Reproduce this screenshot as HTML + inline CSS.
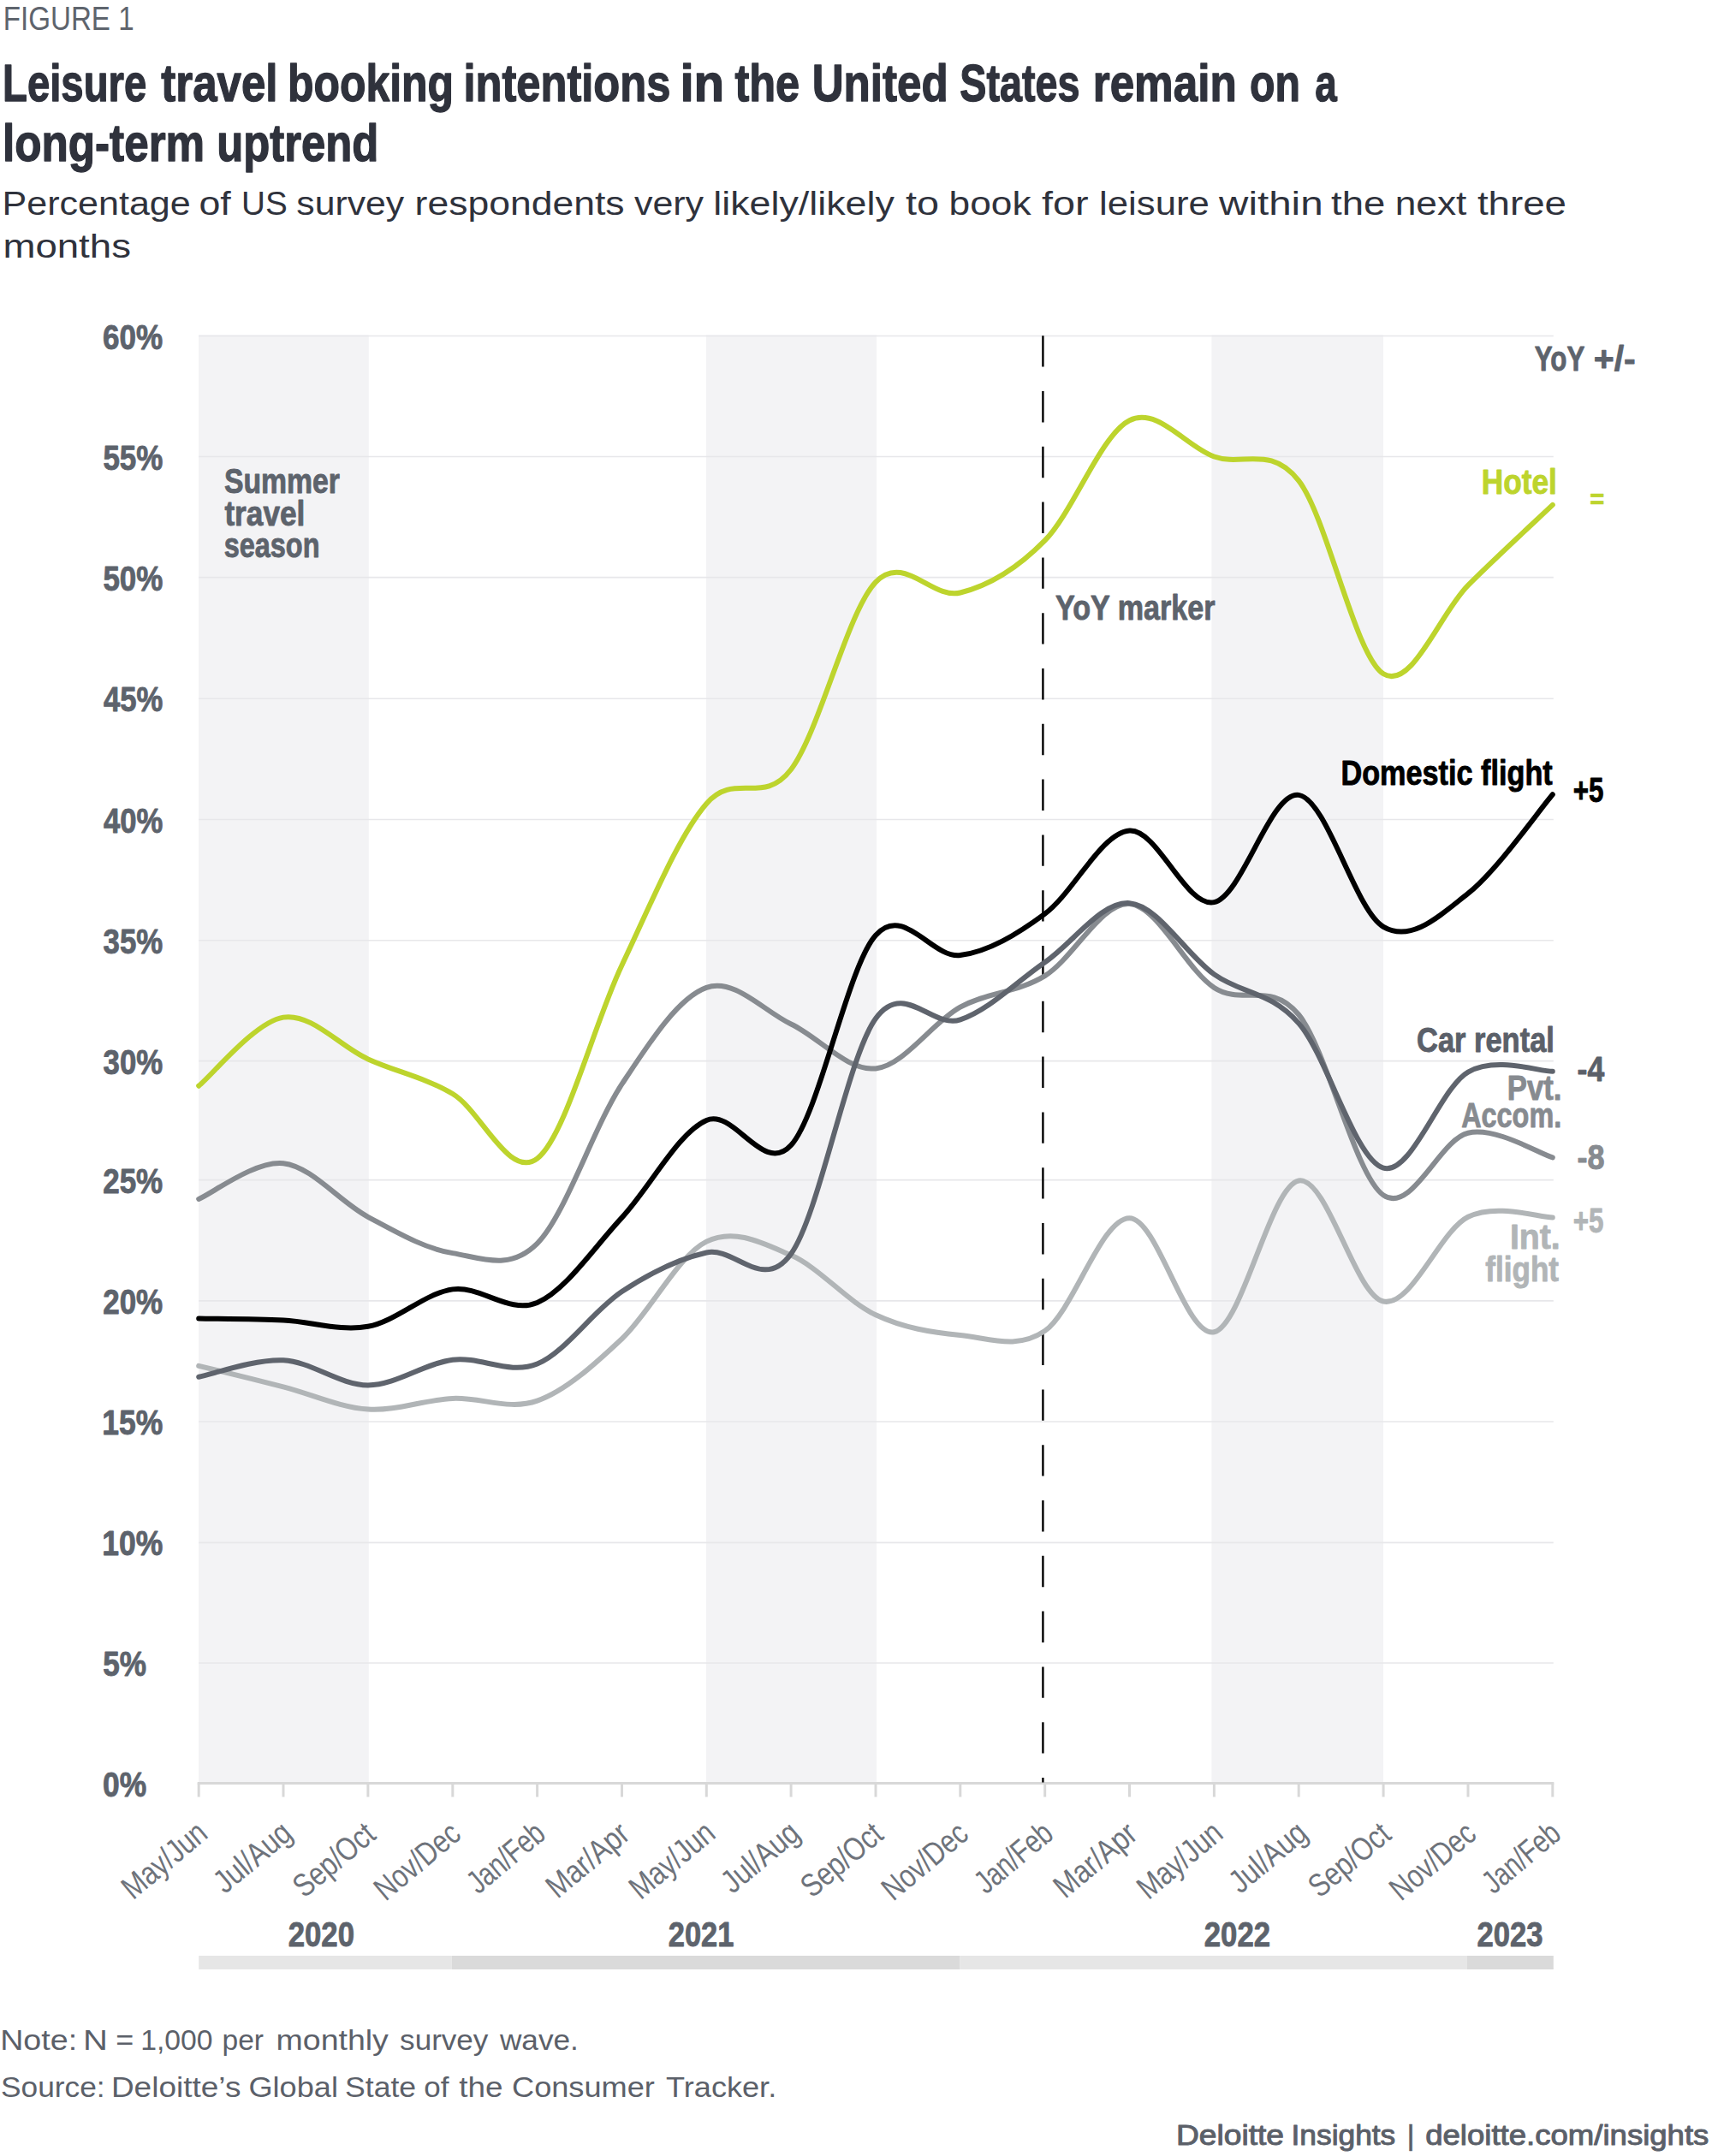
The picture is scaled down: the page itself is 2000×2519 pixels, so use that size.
<!DOCTYPE html>
<html lang="en"><head><meta charset="utf-8"><title>Figure 1 - Leisure travel booking intentions</title>
<style>html,body{margin:0;padding:0;background:#fff}svg{display:block}text{font-family:"Liberation Sans",sans-serif}.b{font-weight:700}</style>
</head><body>
<svg width="2000" height="2519" viewBox="0 0 2000 2519">
<rect width="2000" height="2519" fill="#ffffff"/>
<text x="3.7" y="35.0" font-size="39" fill="#5e646d" textLength="152.9" lengthAdjust="spacingAndGlyphs">FIGURE 1</text>
<text class="b" y="118.3" font-size="62" fill="#2f323c" stroke="#2f323c" stroke-width="1.36" stroke-linejoin="round"><tspan x="3.0" textLength="168.3" lengthAdjust="spacingAndGlyphs">Leisure</tspan> <tspan x="188.3" textLength="136.2" lengthAdjust="spacingAndGlyphs">travel</tspan> <tspan x="336.1" textLength="193.9" lengthAdjust="spacingAndGlyphs">booking</tspan> <tspan x="541.5" textLength="241.8" lengthAdjust="spacingAndGlyphs">intentions</tspan> <tspan x="794.4" textLength="51.8" lengthAdjust="spacingAndGlyphs">in</tspan> <tspan x="858.4" textLength="75.8" lengthAdjust="spacingAndGlyphs">the</tspan> <tspan x="948.7" textLength="158.9" lengthAdjust="spacingAndGlyphs">United</tspan> <tspan x="1121.3" textLength="140.2" lengthAdjust="spacingAndGlyphs">States</tspan> <tspan x="1276.7" textLength="168.0" lengthAdjust="spacingAndGlyphs">remain</tspan> <tspan x="1460.1" textLength="58.9" lengthAdjust="spacingAndGlyphs">on</tspan> <tspan x="1536.3" textLength="25.5" lengthAdjust="spacingAndGlyphs">a</tspan></text>
<text class="b" y="187.8" font-size="62" fill="#2f323c" stroke="#2f323c" stroke-width="1.36" stroke-linejoin="round"><tspan x="2.9" textLength="236.3" lengthAdjust="spacingAndGlyphs">long-term</tspan> <tspan x="253.2" textLength="189.1" lengthAdjust="spacingAndGlyphs">uptrend</tspan></text>
<text y="251.2" font-size="38" fill="#2f323c"><tspan x="2.6" textLength="220.1" lengthAdjust="spacingAndGlyphs">Percentage</tspan> <tspan x="232.4" textLength="37.3" lengthAdjust="spacingAndGlyphs">of</tspan> <tspan x="282.0" textLength="53.7" lengthAdjust="spacingAndGlyphs">US</tspan> <tspan x="346.3" textLength="125.8" lengthAdjust="spacingAndGlyphs">survey</tspan> <tspan x="484.6" textLength="245.0" lengthAdjust="spacingAndGlyphs">respondents</tspan> <tspan x="740.9" textLength="81.2" lengthAdjust="spacingAndGlyphs">very</tspan> <tspan x="833.3" textLength="211.6" lengthAdjust="spacingAndGlyphs">likely/likely</tspan> <tspan x="1057.9" textLength="39.0" lengthAdjust="spacingAndGlyphs">to</tspan> <tspan x="1108.6" textLength="95.9" lengthAdjust="spacingAndGlyphs">book</tspan> <tspan x="1216.9" textLength="54.6" lengthAdjust="spacingAndGlyphs">for</tspan> <tspan x="1284.1" textLength="128.8" lengthAdjust="spacingAndGlyphs">leisure</tspan> <tspan x="1424.1" textLength="121.5" lengthAdjust="spacingAndGlyphs">within</tspan> <tspan x="1555.0" textLength="63.2" lengthAdjust="spacingAndGlyphs">the</tspan> <tspan x="1629.7" textLength="83.6" lengthAdjust="spacingAndGlyphs">next</tspan> <tspan x="1725.9" textLength="104.1" lengthAdjust="spacingAndGlyphs">three</tspan></text>
<text x="3.4" y="300.8" font-size="38" fill="#2f323c" textLength="149.6" lengthAdjust="spacingAndGlyphs">months</text>
<rect x="232.0" y="391.5" width="198.8" height="1692.0" fill="#f3f3f5"/>
<rect x="824.9" y="391.5" width="199.1" height="1692.0" fill="#f3f3f5"/>
<rect x="1415.4" y="391.5" width="200.6" height="1692.0" fill="#f3f3f5"/>
<line x1="232.2" x2="1814.8" y1="1943.0" y2="1943.0" stroke="#e7e7ea" stroke-width="1.6"/>
<line x1="232.2" x2="1814.8" y1="1802.4" y2="1802.4" stroke="#e7e7ea" stroke-width="1.6"/>
<line x1="232.2" x2="1814.8" y1="1661.0" y2="1661.0" stroke="#e7e7ea" stroke-width="1.6"/>
<line x1="232.2" x2="1814.8" y1="1519.9" y2="1519.9" stroke="#e7e7ea" stroke-width="1.6"/>
<line x1="232.2" x2="1814.8" y1="1378.6" y2="1378.6" stroke="#e7e7ea" stroke-width="1.6"/>
<line x1="232.2" x2="1814.8" y1="1239.6" y2="1239.6" stroke="#e7e7ea" stroke-width="1.6"/>
<line x1="232.2" x2="1814.8" y1="1098.7" y2="1098.7" stroke="#e7e7ea" stroke-width="1.6"/>
<line x1="232.2" x2="1814.8" y1="957.5" y2="957.5" stroke="#e7e7ea" stroke-width="1.6"/>
<line x1="232.2" x2="1814.8" y1="816.2" y2="816.2" stroke="#e7e7ea" stroke-width="1.6"/>
<line x1="232.2" x2="1814.8" y1="674.6" y2="674.6" stroke="#e7e7ea" stroke-width="1.6"/>
<line x1="232.2" x2="1814.8" y1="533.5" y2="533.5" stroke="#e7e7ea" stroke-width="1.6"/>
<line x1="232.2" x2="1814.8" y1="392.5" y2="392.5" stroke="#e7e7ea" stroke-width="1.6"/>
<text class="b" x="120.0" y="2098.5" font-size="41.5" fill="#5d636c" textLength="51.1" lengthAdjust="spacingAndGlyphs" stroke="#5d636c" stroke-width="0.91" stroke-linejoin="round">0%</text>
<text class="b" x="120.3" y="1958.0" font-size="41.5" fill="#5d636c" textLength="50.8" lengthAdjust="spacingAndGlyphs" stroke="#5d636c" stroke-width="0.91" stroke-linejoin="round">5%</text>
<text class="b" x="119.2" y="1817.4" font-size="41.5" fill="#5d636c" textLength="71.0" lengthAdjust="spacingAndGlyphs" stroke="#5d636c" stroke-width="0.91" stroke-linejoin="round">10%</text>
<text class="b" x="119.2" y="1676.0" font-size="41.5" fill="#5d636c" textLength="71.0" lengthAdjust="spacingAndGlyphs" stroke="#5d636c" stroke-width="0.91" stroke-linejoin="round">15%</text>
<text class="b" x="120.2" y="1534.9" font-size="41.5" fill="#5d636c" textLength="70.0" lengthAdjust="spacingAndGlyphs" stroke="#5d636c" stroke-width="0.91" stroke-linejoin="round">20%</text>
<text class="b" x="120.2" y="1393.6" font-size="41.5" fill="#5d636c" textLength="70.0" lengthAdjust="spacingAndGlyphs" stroke="#5d636c" stroke-width="0.91" stroke-linejoin="round">25%</text>
<text class="b" x="120.6" y="1254.6" font-size="41.5" fill="#5d636c" textLength="69.6" lengthAdjust="spacingAndGlyphs" stroke="#5d636c" stroke-width="0.91" stroke-linejoin="round">30%</text>
<text class="b" x="120.6" y="1113.7" font-size="41.5" fill="#5d636c" textLength="69.6" lengthAdjust="spacingAndGlyphs" stroke="#5d636c" stroke-width="0.91" stroke-linejoin="round">35%</text>
<text class="b" x="120.9" y="972.5" font-size="41.5" fill="#5d636c" textLength="69.3" lengthAdjust="spacingAndGlyphs" stroke="#5d636c" stroke-width="0.91" stroke-linejoin="round">40%</text>
<text class="b" x="120.9" y="831.2" font-size="41.5" fill="#5d636c" textLength="69.3" lengthAdjust="spacingAndGlyphs" stroke="#5d636c" stroke-width="0.91" stroke-linejoin="round">45%</text>
<text class="b" x="120.4" y="689.6" font-size="41.5" fill="#5d636c" textLength="69.9" lengthAdjust="spacingAndGlyphs" stroke="#5d636c" stroke-width="0.91" stroke-linejoin="round">50%</text>
<text class="b" x="120.4" y="548.5" font-size="41.5" fill="#5d636c" textLength="69.9" lengthAdjust="spacingAndGlyphs" stroke="#5d636c" stroke-width="0.91" stroke-linejoin="round">55%</text>
<text class="b" x="120.1" y="407.5" font-size="41.5" fill="#5d636c" textLength="70.1" lengthAdjust="spacingAndGlyphs" stroke="#5d636c" stroke-width="0.91" stroke-linejoin="round">60%</text>
<line x1="230.7" x2="1815.3" y1="2083.5" y2="2083.5" stroke="#d8d8d8" stroke-width="3"/>
<line x1="232.2" x2="232.2" y1="2083.5" y2="2099.5" stroke="#d8d8d8" stroke-width="3"/>
<line x1="331.0" x2="331.0" y1="2083.5" y2="2099.5" stroke="#d8d8d8" stroke-width="3"/>
<line x1="429.9" x2="429.9" y1="2083.5" y2="2099.5" stroke="#d8d8d8" stroke-width="3"/>
<line x1="528.8" x2="528.8" y1="2083.5" y2="2099.5" stroke="#d8d8d8" stroke-width="3"/>
<line x1="627.6" x2="627.6" y1="2083.5" y2="2099.5" stroke="#d8d8d8" stroke-width="3"/>
<line x1="726.5" x2="726.5" y1="2083.5" y2="2099.5" stroke="#d8d8d8" stroke-width="3"/>
<line x1="825.3" x2="825.3" y1="2083.5" y2="2099.5" stroke="#d8d8d8" stroke-width="3"/>
<line x1="924.1" x2="924.1" y1="2083.5" y2="2099.5" stroke="#d8d8d8" stroke-width="3"/>
<line x1="1023.0" x2="1023.0" y1="2083.5" y2="2099.5" stroke="#d8d8d8" stroke-width="3"/>
<line x1="1121.8" x2="1121.8" y1="2083.5" y2="2099.5" stroke="#d8d8d8" stroke-width="3"/>
<line x1="1220.7" x2="1220.7" y1="2083.5" y2="2099.5" stroke="#d8d8d8" stroke-width="3"/>
<line x1="1319.5" x2="1319.5" y1="2083.5" y2="2099.5" stroke="#d8d8d8" stroke-width="3"/>
<line x1="1418.4" x2="1418.4" y1="2083.5" y2="2099.5" stroke="#d8d8d8" stroke-width="3"/>
<line x1="1517.2" x2="1517.2" y1="2083.5" y2="2099.5" stroke="#d8d8d8" stroke-width="3"/>
<line x1="1616.1" x2="1616.1" y1="2083.5" y2="2099.5" stroke="#d8d8d8" stroke-width="3"/>
<line x1="1715.0" x2="1715.0" y1="2083.5" y2="2099.5" stroke="#d8d8d8" stroke-width="3"/>
<line x1="1813.8" x2="1813.8" y1="2083.5" y2="2099.5" stroke="#d8d8d8" stroke-width="3"/>
<line x1="1218.4" x2="1218.4" y1="392.2" y2="2082.5" stroke="#000" stroke-width="2.4" stroke-dasharray="36.4 28.4"/>
<path d="M232.2,1595.8C248.7,1599.9 298.1,1611.9 331.0,1620.3C364.0,1628.8 396.9,1644.3 429.9,1646.6C462.8,1648.8 495.8,1635.5 528.8,1633.9C561.7,1632.2 594.6,1648.3 627.6,1636.7C660.5,1625.1 693.5,1595.2 726.5,1564.2C759.4,1533.2 792.3,1466.8 825.3,1450.6C858.2,1434.3 891.2,1452.4 924.1,1466.6C957.1,1480.9 990.0,1520.7 1023.0,1536.3C1056.0,1551.8 1088.9,1556.9 1121.8,1560.0C1154.8,1563.1 1187.8,1577.7 1220.7,1554.9C1253.7,1532.1 1286.6,1423.0 1319.5,1423.2C1352.5,1423.4 1385.4,1563.6 1418.4,1556.3C1451.3,1549.0 1484.3,1385.5 1517.2,1379.5C1550.2,1373.5 1583.1,1513.5 1616.1,1520.5C1649.0,1527.5 1682.0,1438.2 1715.0,1421.8C1747.9,1405.4 1797.3,1422.3 1813.8,1422.4" fill="none" stroke="#b1b5b7" stroke-width="6" stroke-linecap="round" stroke-linejoin="round"/>
<path d="M232.2,1400.9C248.7,1394.0 298.1,1355.7 331.0,1359.2C364.0,1362.7 396.9,1404.3 429.9,1421.8C462.8,1439.3 495.8,1458.9 528.8,1464.1C561.7,1469.3 594.6,1485.7 627.6,1452.8C660.5,1419.9 693.5,1316.5 726.5,1266.7C759.4,1216.9 792.3,1165.6 825.3,1153.9C858.2,1142.2 891.2,1180.7 924.1,1196.5C957.1,1212.2 990.0,1251.7 1023.0,1248.4C1056.0,1245.1 1088.9,1194.8 1121.8,1176.7C1154.8,1158.7 1187.8,1160.2 1220.7,1140.1C1253.7,1120.0 1286.6,1053.7 1319.5,1056.0C1352.5,1058.3 1385.4,1132.3 1418.4,1153.9C1451.3,1175.5 1484.3,1145.1 1517.2,1185.5C1550.2,1225.9 1583.1,1373.4 1616.1,1396.4C1649.0,1419.5 1682.0,1331.0 1715.0,1323.7C1747.9,1316.3 1797.3,1347.6 1813.8,1352.4" fill="none" stroke="#878b90" stroke-width="6" stroke-linecap="round" stroke-linejoin="round"/>
<path d="M232.2,1608.8C248.7,1605.5 298.1,1587.7 331.0,1589.3C364.0,1590.9 396.9,1618.4 429.9,1618.4C462.8,1618.3 495.8,1592.9 528.8,1588.7C561.7,1584.6 594.6,1606.8 627.6,1593.5C660.5,1580.2 693.5,1530.6 726.5,1508.9C759.4,1487.3 792.3,1470.9 825.3,1463.5C858.2,1456.2 891.2,1510.5 924.1,1464.9C957.1,1419.4 990.0,1235.6 1023.0,1190.0C1056.0,1144.4 1088.9,1202.4 1121.8,1191.4C1154.8,1180.5 1187.8,1147.0 1220.7,1124.3C1253.7,1101.6 1286.6,1052.8 1319.5,1055.2C1352.5,1057.5 1385.4,1115.0 1418.4,1138.4C1451.3,1161.8 1484.3,1157.9 1517.2,1195.6C1550.2,1233.3 1583.1,1355.1 1616.1,1364.6C1649.0,1374.0 1682.0,1271.4 1715.0,1252.6C1747.9,1233.8 1797.3,1251.9 1813.8,1251.8" fill="none" stroke="#5f646d" stroke-width="6" stroke-linecap="round" stroke-linejoin="round"/>
<path d="M232.2,1540.5C248.7,1540.9 298.1,1540.9 331.0,1542.5C364.0,1544.0 396.9,1555.8 429.9,1549.8C462.8,1543.8 495.8,1511.1 528.8,1506.4C561.7,1501.7 594.6,1535.9 627.6,1521.9C660.5,1508.0 693.5,1458.1 726.5,1422.6C759.4,1387.2 792.3,1323.1 825.3,1309.0C858.2,1294.9 891.2,1374.1 924.1,1338.0C957.1,1302.0 990.0,1129.7 1023.0,1092.7C1056.0,1055.7 1088.9,1120.3 1121.8,1116.1C1154.8,1111.9 1187.8,1091.9 1220.7,1067.6C1253.7,1043.4 1286.6,972.9 1319.5,970.6C1352.5,968.3 1385.4,1061.0 1418.4,1054.1C1451.3,1047.1 1484.3,924.1 1517.2,928.9C1550.2,933.7 1583.1,1063.7 1616.1,1082.8C1649.0,1102.0 1682.0,1069.7 1715.0,1043.9C1747.9,1018.2 1797.3,947.6 1813.8,928.3" fill="none" stroke="#000000" stroke-width="6" stroke-linecap="round" stroke-linejoin="round"/>
<path d="M232.2,1268.7C248.7,1255.3 298.1,1193.8 331.0,1188.6C364.0,1183.4 396.9,1222.5 429.9,1237.4C462.8,1252.3 495.8,1258.6 528.8,1278.0C561.7,1297.3 594.6,1378.6 627.6,1353.6C660.5,1328.5 693.5,1196.8 726.5,1127.7C759.4,1058.6 792.3,977.1 825.3,939.0C858.2,900.9 891.2,942.1 924.1,899.0C957.1,855.8 990.0,714.5 1023.0,680.1C1056.0,645.7 1088.9,700.7 1121.8,692.5C1154.8,684.4 1187.8,664.9 1220.7,631.4C1253.7,597.8 1286.6,507.5 1319.5,491.2C1352.5,474.9 1385.4,521.8 1418.4,533.5C1451.3,545.2 1484.3,519.4 1517.2,561.7C1550.2,604.0 1583.1,766.9 1616.1,787.3C1649.0,807.7 1682.0,716.7 1715.0,683.8C1747.9,650.9 1797.3,605.6 1813.8,589.9" fill="none" stroke="#bdd42d" stroke-width="6" stroke-linecap="round" stroke-linejoin="round"/>
<text class="b" font-size="41.5" fill="#5d636c" stroke="#5d636c" stroke-width="0.91" stroke-linejoin="round"><tspan x="261.9" y="576.4" textLength="135.1" lengthAdjust="spacingAndGlyphs">Summer</tspan> <tspan x="262.4" y="613.5" textLength="94.0" lengthAdjust="spacingAndGlyphs">travel</tspan> <tspan x="261.7" y="650.6" textLength="111.8" lengthAdjust="spacingAndGlyphs">season</tspan></text>
<text class="b" x="1233.0" y="723.9" font-size="41.5" fill="#5d636c" textLength="186.5" lengthAdjust="spacingAndGlyphs" stroke="#5d636c" stroke-width="0.91" stroke-linejoin="round">YoY marker</text>
<text class="b" font-size="41.5" fill="#5d636c" stroke="#5d636c" stroke-width="0.91" stroke-linejoin="round"><tspan x="1792.8" y="432.9" textLength="58.0" lengthAdjust="spacingAndGlyphs">YoY</tspan> <tspan x="1861.7" y="432.9" textLength="49.0" lengthAdjust="spacingAndGlyphs">+/-</tspan></text>
<text class="b" x="1730.7" y="576.6" font-size="41.5" fill="#bdd42d" textLength="88.1" lengthAdjust="spacingAndGlyphs" stroke="#bdd42d" stroke-width="0.91" stroke-linejoin="round">Hotel</text>
<text class="b" x="1857.2" y="594.2" font-size="32" fill="#bdd42d" textLength="17.0" lengthAdjust="spacingAndGlyphs" stroke="#bdd42d" stroke-width="0.70" stroke-linejoin="round">=</text>
<text class="b" x="1566.5" y="916.6" font-size="41.5" fill="#000" textLength="247.2" lengthAdjust="spacingAndGlyphs" stroke="#000" stroke-width="0.91" stroke-linejoin="round">Domestic flight</text>
<text class="b" x="1837.7" y="937.4" font-size="41.5" fill="#000" textLength="35.7" lengthAdjust="spacingAndGlyphs" stroke="#000" stroke-width="0.91" stroke-linejoin="round">+5</text>
<text class="b" x="1655.0" y="1229.3" font-size="41.5" fill="#5b6069" textLength="160.9" lengthAdjust="spacingAndGlyphs" stroke="#5b6069" stroke-width="0.91" stroke-linejoin="round">Car rental</text>
<text class="b" x="1842.6" y="1263.4" font-size="41.5" fill="#5b6069" textLength="31.6" lengthAdjust="spacingAndGlyphs" stroke="#5b6069" stroke-width="0.91" stroke-linejoin="round">-4</text>
<text class="b" font-size="41.5" fill="#878b90" stroke="#878b90" stroke-width="0.91" stroke-linejoin="round"><tspan x="1760.8" y="1285.3" textLength="63.6" lengthAdjust="spacingAndGlyphs">Pvt.</tspan> <tspan x="1707.2" y="1317.0" textLength="117.0" lengthAdjust="spacingAndGlyphs">Accom.</tspan></text>
<text class="b" x="1842.6" y="1365.5" font-size="41.5" fill="#878b90" textLength="32.0" lengthAdjust="spacingAndGlyphs" stroke="#878b90" stroke-width="0.91" stroke-linejoin="round">-8</text>
<text class="b" x="1837.7" y="1439.8" font-size="41.5" fill="#b1b5b7" textLength="35.7" lengthAdjust="spacingAndGlyphs" stroke="#b1b5b7" stroke-width="0.91" stroke-linejoin="round">+5</text>
<text class="b" font-size="41.5" fill="#b1b5b7" stroke="#b1b5b7" stroke-width="0.91" stroke-linejoin="round"><tspan x="1763.9" y="1458.5" textLength="58.8" lengthAdjust="spacingAndGlyphs">Int.</tspan> <tspan x="1735.3" y="1496.5" textLength="85.7" lengthAdjust="spacingAndGlyphs">flight</tspan></text>
<text transform="translate(243.2,2147) rotate(-40)" x="-114.5" y="0" font-size="38" fill="#6e737b" textLength="116.5" lengthAdjust="spacingAndGlyphs">May/Jun</text>
<text transform="translate(342.0,2147) rotate(-40)" x="-103.5" y="0" font-size="38" fill="#6e737b" textLength="105.5" lengthAdjust="spacingAndGlyphs">Jul/Aug</text>
<text transform="translate(440.9,2147) rotate(-40)" x="-111.4" y="0" font-size="38" fill="#6e737b" textLength="111.6" lengthAdjust="spacingAndGlyphs">Sep/Oct</text>
<text transform="translate(539.8,2147) rotate(-40)" x="-116.5" y="0" font-size="38" fill="#6e737b" textLength="117.3" lengthAdjust="spacingAndGlyphs">Nov/Dec</text>
<text transform="translate(638.6,2147) rotate(-40)" x="-104.4" y="0" font-size="38" fill="#6e737b" textLength="105.6" lengthAdjust="spacingAndGlyphs">Jan/Feb</text>
<text transform="translate(737.5,2147) rotate(-40)" x="-112.6" y="0" font-size="38" fill="#6e737b" textLength="113.1" lengthAdjust="spacingAndGlyphs">Mar/Apr</text>
<text transform="translate(836.3,2147) rotate(-40)" x="-114.5" y="0" font-size="38" fill="#6e737b" textLength="116.5" lengthAdjust="spacingAndGlyphs">May/Jun</text>
<text transform="translate(935.1,2147) rotate(-40)" x="-103.5" y="0" font-size="38" fill="#6e737b" textLength="105.5" lengthAdjust="spacingAndGlyphs">Jul/Aug</text>
<text transform="translate(1034.0,2147) rotate(-40)" x="-111.4" y="0" font-size="38" fill="#6e737b" textLength="111.6" lengthAdjust="spacingAndGlyphs">Sep/Oct</text>
<text transform="translate(1132.8,2147) rotate(-40)" x="-116.5" y="0" font-size="38" fill="#6e737b" textLength="117.3" lengthAdjust="spacingAndGlyphs">Nov/Dec</text>
<text transform="translate(1231.7,2147) rotate(-40)" x="-104.4" y="0" font-size="38" fill="#6e737b" textLength="105.6" lengthAdjust="spacingAndGlyphs">Jan/Feb</text>
<text transform="translate(1330.5,2147) rotate(-40)" x="-112.6" y="0" font-size="38" fill="#6e737b" textLength="113.1" lengthAdjust="spacingAndGlyphs">Mar/Apr</text>
<text transform="translate(1429.4,2147) rotate(-40)" x="-114.5" y="0" font-size="38" fill="#6e737b" textLength="116.5" lengthAdjust="spacingAndGlyphs">May/Jun</text>
<text transform="translate(1528.2,2147) rotate(-40)" x="-103.5" y="0" font-size="38" fill="#6e737b" textLength="105.5" lengthAdjust="spacingAndGlyphs">Jul/Aug</text>
<text transform="translate(1627.1,2147) rotate(-40)" x="-111.4" y="0" font-size="38" fill="#6e737b" textLength="111.6" lengthAdjust="spacingAndGlyphs">Sep/Oct</text>
<text transform="translate(1726.0,2147) rotate(-40)" x="-116.5" y="0" font-size="38" fill="#6e737b" textLength="117.3" lengthAdjust="spacingAndGlyphs">Nov/Dec</text>
<text transform="translate(1824.8,2147) rotate(-40)" x="-104.4" y="0" font-size="38" fill="#6e737b" textLength="105.6" lengthAdjust="spacingAndGlyphs">Jan/Feb</text>
<text class="b" x="336.7" y="2274.0" font-size="41.5" fill="#5d636c" textLength="77.3" lengthAdjust="spacingAndGlyphs" stroke="#5d636c" stroke-width="0.91" stroke-linejoin="round">2020</text>
<text class="b" x="780.8" y="2274.0" font-size="41.5" fill="#5d636c" textLength="76.6" lengthAdjust="spacingAndGlyphs" stroke="#5d636c" stroke-width="0.91" stroke-linejoin="round">2021</text>
<text class="b" x="1406.8" y="2274.0" font-size="41.5" fill="#5d636c" textLength="77.2" lengthAdjust="spacingAndGlyphs" stroke="#5d636c" stroke-width="0.91" stroke-linejoin="round">2022</text>
<text class="b" x="1725.5" y="2274.0" font-size="41.5" fill="#5d636c" textLength="77.0" lengthAdjust="spacingAndGlyphs" stroke="#5d636c" stroke-width="0.91" stroke-linejoin="round">2023</text>
<rect x="232.2" y="2285" width="295.6" height="16" fill="#e6e6e6"/>
<rect x="527.8" y="2285" width="593.7" height="16" fill="#dadada"/>
<rect x="1121.5" y="2285" width="592.5" height="16" fill="#e6e6e6"/>
<rect x="1714.0" y="2285" width="100.8" height="16" fill="#dadada"/>
<text y="2394.6" font-size="34" fill="#5b6069"><tspan x="0.2" textLength="89.9" lengthAdjust="spacingAndGlyphs">Note:</tspan> <tspan x="96.9" textLength="28.9" lengthAdjust="spacingAndGlyphs">N</tspan> <tspan x="135.3" textLength="21.0" lengthAdjust="spacingAndGlyphs">=</tspan> <tspan x="164.2" textLength="84.4" lengthAdjust="spacingAndGlyphs">1,000</tspan> <tspan x="259.5" textLength="48.5" lengthAdjust="spacingAndGlyphs">per</tspan> <tspan x="322.5" textLength="131.4" lengthAdjust="spacingAndGlyphs">monthly</tspan> <tspan x="467.1" textLength="103.3" lengthAdjust="spacingAndGlyphs">survey</tspan> <tspan x="583.9" textLength="92.0" lengthAdjust="spacingAndGlyphs">wave.</tspan></text>
<text y="2450.4" font-size="34" fill="#5b6069"><tspan x="1.0" textLength="121.6" lengthAdjust="spacingAndGlyphs">Source:</tspan> <tspan x="129.9" textLength="151.5" lengthAdjust="spacingAndGlyphs">Deloitte’s</tspan> <tspan x="290.5" textLength="104.4" lengthAdjust="spacingAndGlyphs">Global</tspan> <tspan x="403.1" textLength="83.0" lengthAdjust="spacingAndGlyphs">State</tspan> <tspan x="495.2" textLength="29.2" lengthAdjust="spacingAndGlyphs">of</tspan> <tspan x="536.2" textLength="51.3" lengthAdjust="spacingAndGlyphs">the</tspan> <tspan x="598.0" textLength="166.9" lengthAdjust="spacingAndGlyphs">Consumer</tspan> <tspan x="778.1" textLength="129.1" lengthAdjust="spacingAndGlyphs">Tracker.</tspan></text>
<text y="2505.9" font-size="34" fill="#5b6069" stroke="#5b6069" stroke-width="1.00" stroke-linejoin="round"><tspan x="1373.9" textLength="126.1" lengthAdjust="spacingAndGlyphs">Deloitte</tspan> <tspan x="1508.5" textLength="121.8" lengthAdjust="spacingAndGlyphs">Insights</tspan> <tspan x="1665.2" textLength="331.2" lengthAdjust="spacingAndGlyphs">deloitte.com/insights</tspan></text>
<text x="1642.9" y="2505.9" font-size="34" fill="#5b6069" textLength="10.1" lengthAdjust="spacingAndGlyphs" stroke="#5b6069" stroke-width="0.30" stroke-linejoin="round">|</text>
</svg></body></html>
